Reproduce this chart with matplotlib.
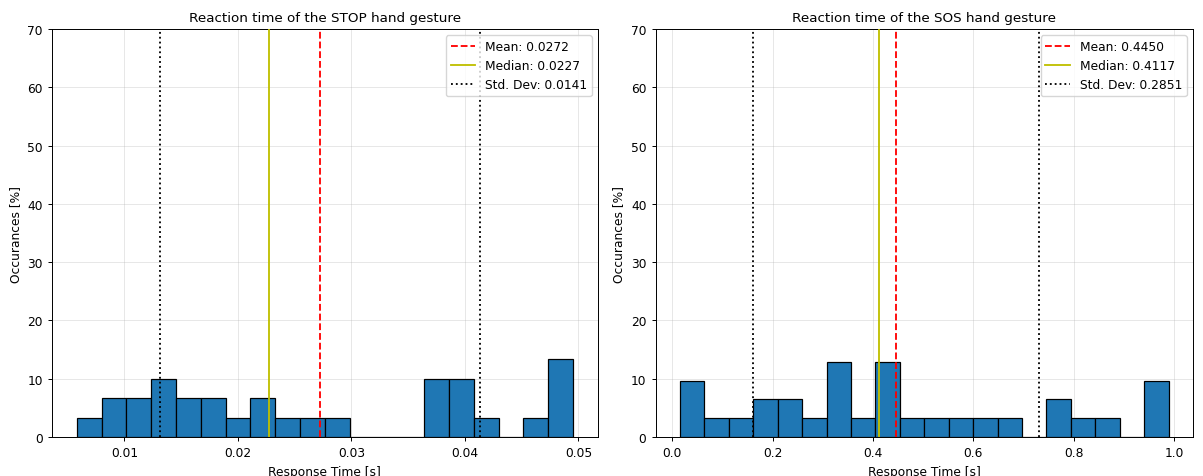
import matplotlib
matplotlib.use("Agg")
import matplotlib.pyplot as plt
import numpy as np

# STOP gesture histogram (20 bins), counts out of 30 samples
stop_edges_range = (0.0058, 0.04953)
stop_counts = [1, 2, 2, 3, 2, 2, 1, 2, 1, 1, 1, 0, 0, 0, 3, 3, 1, 0, 1, 4]
stop_total = 30
stop_mean = 0.0272
stop_median = 0.0227
stop_std = 0.0141

# SOS gesture histogram (20 bins), counts out of 31 samples
sos_edges_range = (0.0151, 0.9890)
sos_counts = [3, 1, 1, 2, 2, 1, 4, 1, 4, 1, 1, 1, 1, 1, 0, 2, 1, 1, 0, 3]
sos_total = 31
sos_mean = 0.4450
sos_median = 0.4117
sos_std = 0.2851

titles = ["Reaction time of the STOP hand gesture", "Reaction time of the SOS hand gesture"]

s = 0.88
plt.rcParams.update({
    "font.size": 10 * s,
    "axes.linewidth": 0.8 * s,
    "xtick.major.width": 0.8 * s,
    "ytick.major.width": 0.8 * s,
    "xtick.major.size": 3.5 * s,
    "ytick.major.size": 3.5 * s,
    "grid.linewidth": 0.8 * s,
})

fig = plt.figure(figsize=(12.03, 4.77), dpi=100)
ax1 = fig.add_axes([0.0432, 0.0818, 0.4538, 0.8552])
ax2 = fig.add_axes([0.5449, 0.0818, 0.4468, 0.8552])

def draw(ax, rng, counts, total, mean, median, std, title):
    edges = np.linspace(rng[0], rng[1], len(counts) + 1)
    heights = np.array(counts) / total * 100
    ax.bar(edges[:-1], heights, width=np.diff(edges), align="edge",
           color="#1f77b4", edgecolor="black", linewidth=1.0 * s, zorder=2)
    lw = 1.5 * s
    ax.axvline(mean, color="red", linestyle="--", linewidth=lw, label=f"Mean: {mean:.4f}", zorder=3)
    ax.axvline(median, color="y", linestyle="-", linewidth=lw, label=f"Median: {median:.4f}", zorder=3)
    ax.axvline(mean - std, color="black", linestyle=":", linewidth=lw, label=f"Std. Dev: {std:.4f}", zorder=3)
    ax.axvline(mean + std, color="black", linestyle=":", linewidth=lw, zorder=3)
    ax.set_ylim(0, 70)
    ax.grid(True, alpha=0.3, zorder=0)
    ax.set_axisbelow(True)
    ax.set_title(title, fontsize=9.7)
    ax.set_xlabel("Response Time [s]")
    ax.set_ylabel("Occurances [%]")
    ax.legend(loc="upper right")

draw(ax1, stop_edges_range, stop_counts, stop_total, stop_mean, stop_median, stop_std, titles[0])
draw(ax2, sos_edges_range, sos_counts, sos_total, sos_mean, sos_median, sos_std, titles[1])

fig.savefig("out.png", dpi=100)
